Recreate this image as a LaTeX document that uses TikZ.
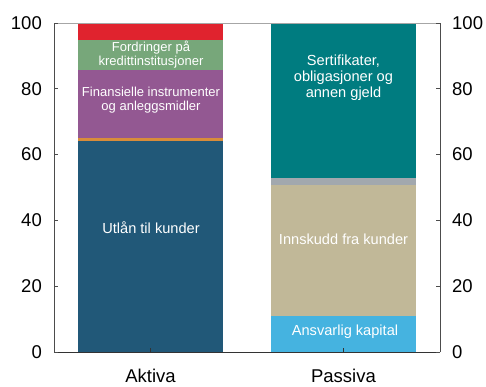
\documentclass[tikz,border=0pt]{standalone}
\usepackage{fontspec}
\setmainfont{Liberation Sans}
\usetikzlibrary{positioning}

\definecolor{utlaan}{HTML}{215878}
\definecolor{diverse}{HTML}{D88C3A}
\definecolor{finans}{HTML}{935892}
\definecolor{fordring}{HTML}{77A77A}
\definecolor{rest}{HTML}{E0232E}
\definecolor{kapital}{HTML}{45B3E0}
\definecolor{innskudd}{HTML}{C1B898}
\definecolor{annet}{HTML}{A2A8AE}
\definecolor{gjeld}{HTML}{007C80}

\begin{document}
\begin{tikzpicture}[x=1pt, y=3.29pt,
            axis label/.style={font=\fontsize{18.5}{22}\selectfont, inner sep=0pt},
            bar label/.style={font=\fontsize{14.6}{16}\selectfont, text=white, align=center, inner sep=0pt},
            small label/.style={font=\fontsize{13}{13.5}\selectfont, text=white, align=center, inner sep=0pt}]

            \useasboundingbox (-54,-10.638) rectangle (432,106.99);

            % Aktiva bar
            \fill[utlaan] (24,0) rectangle (169,64);
            \fill[diverse] (24,64) rectangle (169,65);
            \fill[finans] (24,65) rectangle (169,85.7);
            \fill[fordring] (24,85.7) rectangle (169,94.8);
            \fill[rest] (24,94.8) rectangle (169,100);

            % Passiva bar
            \fill[kapital] (217,0) rectangle (362,11);
            \fill[innskudd] (217,11) rectangle (362,50.8);
            \fill[annet] (217,50.8) rectangle (362,52.8);
            \fill[gjeld] (217,52.8) rectangle (362,100);

            % Frame and ticks
            \draw[gray!70, line width=0.9pt] (0,100) -- (386,100);
            \draw[black!70, line width=0.9pt] (0,0) -- (0,100);
            \draw[black!70, line width=0.9pt] (386,0) -- (386,100);
            \draw[black!80, line width=0.9pt] (0,0) -- (386,0);
            \foreach \v in {0,20,...,100} {
                \draw[black!70, line width=0.8pt] (0,\v) -- (4,\v);
                \draw[black!70, line width=0.8pt] (386,\v) -- (382,\v);
                \node[axis label, anchor=east] (vl\v) at (-12,\v) {\v};
                \node[axis label, anchor=west] (vr\v) at (398,\v) {\v};
            }
            \draw[black!80, line width=0.8pt] (96.5,0) -- (96.5,1.2);
            \draw[black!80, line width=0.8pt] (289.5,0) -- (289.5,1.2);

            % Categories
            \node[axis label, anchor=base] (aktiva) at (96.5,-9.4) {Aktiva};
            \node[axis label, anchor=base] (passiva) at (289.5,-9.4) {Passiva};

            % Segment labels
            \node[bar label] (utl) at (97,37.7) {Utlån til kunder};
            \node[small label] (fin) at (97,76.6) {Finansielle instrumenter\\og anleggsmidler};
            \node[small label] (ford) at (97,90.4) {Fordringer på\\kredittinstitusjoner};
            \node[bar label] (ansv) at (291,6.1) {Ansvarlig kapital};
            \node[bar label] (innsk) at (289.5,34.3) {Innskudd fra kunder};
            \node[bar label] (sert) at (289.5,83.3) {Sertifikater,\\obligasjoner og\\annen gjeld};
        \end{tikzpicture}
\end{document}
